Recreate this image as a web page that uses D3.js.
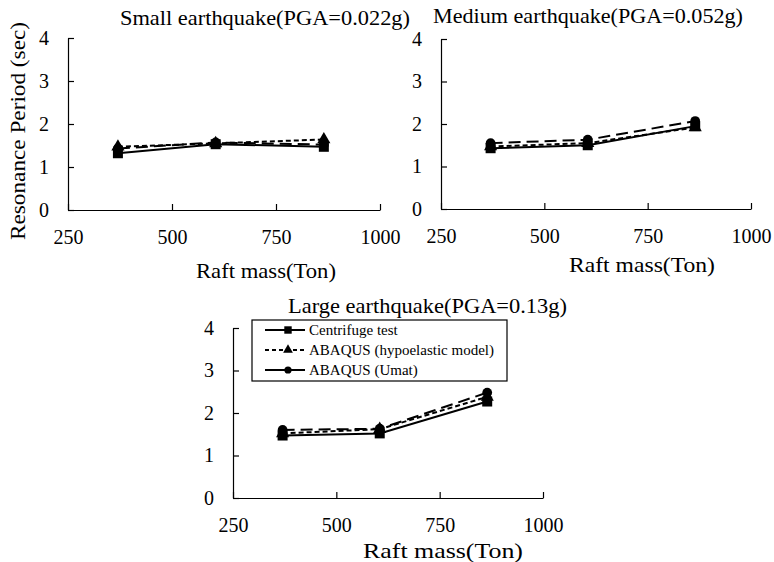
<!DOCTYPE html>
<html>
<head>
<meta charset="utf-8">
<script src="https://cdn.jsdelivr.net/npm/d3@7"></script>
<style>
  body { margin: 0; background: #fff; }
  svg { display: block; font-family: "Liberation Serif", "Times New Roman", serif; }
  .axis path, .axis line { stroke: #000; stroke-width: 1.2; }
</style>
</head>
<body>
<svg id="chart" width="774" height="562"></svg>
<script>
// data
var massTon = [370, 605, 865];
var xTicks = [250, 500, 750, 1000];
var yTicks = [0, 1, 2, 3, 4];
var panelTitles = [
  "Small earthquake(PGA=0.022g)",
  "Medium  earthquake(PGA=0.052g)",
  "Large earthquake(PGA=0.13g)"
];
var xTitles = ["Raft mass(Ton)", "Raft  mass(Ton)", "Raft  mass(Ton)"];
var seriesNames = ["Centrifuge test", "ABAQUS (hypoelastic model)", "ABAQUS (Umat)"];
var centrifuge  = [[1.32, 1.53, 1.47], [1.43, 1.50, 1.95], [1.47, 1.52, 2.27]];
var hypoelastic = [[1.47, 1.55, 1.64], [1.47, 1.55, 1.92], [1.52, 1.62, 2.38]];
var umat        = [[1.43, 1.57, 1.52], [1.55, 1.63, 2.07], [1.60, 1.63, 2.48]];

var svg = d3.select("#chart");
var serif = "Liberation Serif";

// panel boxes (plot area in pixels)
var panels = [
  { left: 68,  right: 380, top: 38,  bottom: 210, title: [120, 25, 290], xt: [266, 278, 140] },
  { left: 441, right: 751, top: 39,  bottom: 209, title: [433, 23, 310], xt: [642, 272, 146] },
  { left: 233, right: 543, top: 328, bottom: 498, title: [288, 313, 279], xt: [443, 558, 160] }
];

var styles = [
  { dash: null,  symbol: d3.symbolSquare,   size: 100 },
  { dash: "5,3", symbol: d3.symbolTriangle, size: 75 },
  { dash: "12,6", symbol: d3.symbolCircle,  size: 75 }
];

function styleAxis(g) {
  g.attr("font-family", null).attr("font-size", null);
  g.select(".domain").attr("fill", "none");
  g.selectAll("text")
    .attr("fill", "#000")
    .style("font-family", serif)
    .style("font-size", "20px");
}

function drawPanel(i) {
  var p = panels[i];
  var x = d3.scaleLinear().domain([250, 1000]).range([p.left, p.right]);
  var y = d3.scaleLinear().domain([0, 4]).range([p.bottom, p.top]);

  svg.append("g").attr("class", "axis")
    .attr("transform", "translate(0," + p.bottom + ")")
    .call(d3.axisBottom(x).tickValues(xTicks).tickFormat(d3.format("d"))
      .tickSizeInner(-6).tickSizeOuter(0).tickPadding(20))
    .call(styleAxis);

  svg.append("g").attr("class", "axis")
    .attr("transform", "translate(" + p.left + ",0)")
    .call(d3.axisLeft(y).tickValues(yTicks).tickFormat(d3.format("d"))
      .tickSizeInner(-6).tickSizeOuter(0).tickPadding(19))
    .call(styleAxis);

  svg.append("text")
    .attr("x", p.title[0]).attr("y", p.title[1])
    .attr("textLength", p.title[2]).attr("lengthAdjust", "spacingAndGlyphs")
    .attr("font-size", 21)
    .text(panelTitles[i]);

  svg.append("text")
    .attr("x", p.xt[0]).attr("y", p.xt[1])
    .attr("text-anchor", "middle")
    .attr("textLength", p.xt[2]).attr("lengthAdjust", "spacingAndGlyphs")
    .attr("font-size", 21)
    .text(xTitles[i]);

  var all = [centrifuge[i], hypoelastic[i], umat[i]];
  var line = d3.line().x(function(d, k) { return x(massTon[k]); }).y(function(d) { return y(d); });

  all.forEach(function(vals, s) {
    svg.append("path")
      .attr("d", line(vals))
      .attr("fill", "none")
      .attr("stroke", "#000")
      .attr("stroke-width", 2)
      .attr("stroke-dasharray", styles[s].dash);
  });
  all.forEach(function(vals, s) {
    svg.selectAll(null).data(vals).enter().append("path")
      .attr("d", d3.symbol().type(styles[s].symbol).size(styles[s].size))
      .attr("transform", function(d, k) { return "translate(" + x(massTon[k]) + "," + y(d) + ")"; })
      .attr("fill", "#000");
  });
}

[0, 1, 2].forEach(drawPanel);

// y axis title on the first panel
svg.append("text")
  .attr("transform", "translate(25,131) rotate(-90)")
  .attr("text-anchor", "middle")
  .attr("font-size", 21)
  .attr("textLength", 218).attr("lengthAdjust", "spacingAndGlyphs")
  .text("Resonance  Period (sec)");

// legend in the large earthquake panel
var legend = svg.append("g").attr("transform", "translate(252,320)");
legend.append("rect")
  .attr("width", 255).attr("height", 61)
  .attr("fill", "#fff").attr("stroke", "#000").attr("stroke-width", 1.2);

var legendDash = [null, "4,3", null];
seriesNames.forEach(function(name, s) {
  var row = legend.append("g").attr("transform", "translate(0," + (10 + s * 20) + ")");
  row.append("line")
    .attr("x1", 13).attr("x2", 53).attr("y1", 0).attr("y2", 0)
    .attr("stroke", "#000").attr("stroke-width", 2)
    .attr("stroke-dasharray", legendDash[s]);
  row.append("path")
    .attr("d", d3.symbol().type(styles[s].symbol).size(styles[s].size * 0.55))
    .attr("transform", "translate(36,0)")
    .attr("fill", "#000");
  row.append("text")
    .attr("x", 57).attr("y", 5)
    .attr("font-size", 15)
    .text(name);
});
</script>
</body>
</html>
